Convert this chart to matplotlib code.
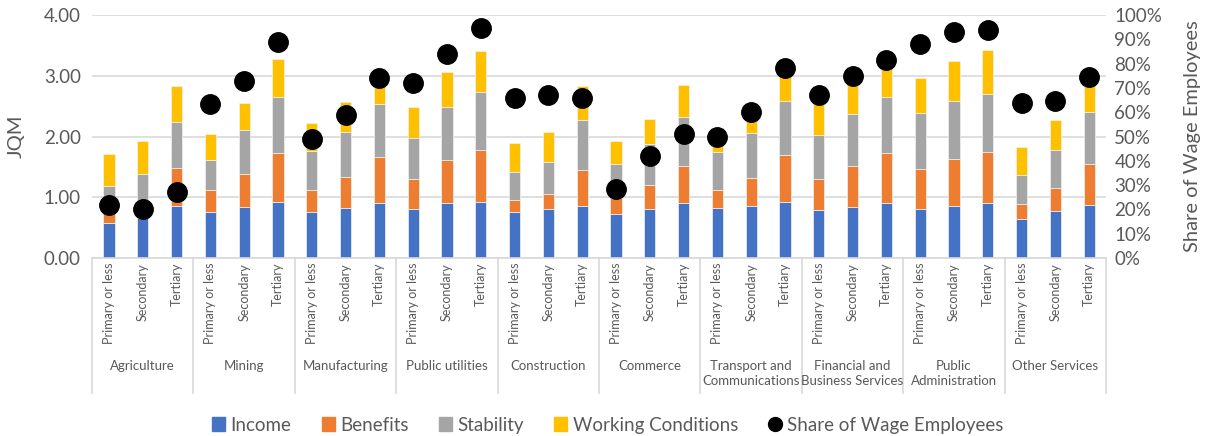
import numpy as np
from matplotlib import pyplot as plt
from matplotlib.lines import Line2D
from matplotlib.patches import Patch
from matplotlib.ticker import FuncFormatter, MultipleLocator

plt.rcParams['font.family'] = ['Lato', 'DejaVu Sans']

# sectors and education levels
sectors = ['Agriculture', 'Mining', 'Manufacturing', 'Public utilities',
           'Construction', 'Commerce', 'Transport and\nCommunications',
           'Financial and\nBusiness Services', 'Public\nAdministration',
           'Other Services']
levels = ['Primary or less', 'Secondary', 'Tertiary']

# JQM components (per sector: primary, secondary, tertiary)
income = [0.58, 0.66, 0.86,  0.76, 0.84, 0.92,  0.76, 0.82, 0.90,
          0.80, 0.90, 0.92,  0.76, 0.81, 0.86,  0.73, 0.81, 0.90,
          0.82, 0.86, 0.93,  0.79, 0.84, 0.91,  0.80, 0.86, 0.90,
          0.64, 0.77, 0.87]
benefits = [0.16, 0.06, 0.63,  0.36, 0.55, 0.81,  0.36, 0.51, 0.77,
            0.50, 0.72, 0.86,  0.19, 0.25, 0.59,  0.26, 0.40, 0.62,
            0.30, 0.46, 0.76,  0.51, 0.68, 0.82,  0.66, 0.77, 0.85,
            0.25, 0.39, 0.68]
stability = [0.45, 0.67, 0.75,  0.49, 0.72, 0.92,  0.65, 0.74, 0.87,
             0.68, 0.87, 0.95,  0.47, 0.52, 0.82,  0.56, 0.67, 0.80,
             0.63, 0.74, 0.90,  0.73, 0.85, 0.92,  0.92, 0.95, 0.95,
             0.47, 0.62, 0.85]
working = [0.52, 0.54, 0.60,  0.43, 0.44, 0.62,  0.46, 0.50, 0.58,
           0.51, 0.57, 0.67,  0.48, 0.49, 0.56,  0.38, 0.41, 0.53,
           0.39, 0.43, 0.45,  0.51, 0.57, 0.55,  0.58, 0.66, 0.72,
           0.47, 0.49, 0.53]
# share of wage employees (right axis)
share = [0.22, 0.20, 0.27,  0.635, 0.73, 0.89,  0.49, 0.59, 0.74,
         0.72, 0.84, 0.945,  0.66, 0.67, 0.66,  0.285, 0.42, 0.51,
         0.50, 0.60, 0.78,  0.67, 0.75, 0.815,  0.88, 0.93, 0.94,
         0.64, 0.645, 0.745]

C_INC = '#4472C4'
C_BEN = '#ED7D31'
C_STA = '#A5A5A5'
C_WC = '#FFC000'
TXT = '#595959'
GRID = '#D9D9D9'

fig = plt.figure(figsize=(12.08, 4.36), dpi=100)
ax1 = fig.add_axes([0.0762, 0.408, 0.8394, 0.5576])

x = np.arange(len(income))
w = 0.33
bottom = np.zeros(len(x))
for vals, col in [(income, C_INC), (benefits, C_BEN), (stability, C_STA), (working, C_WC)]:
    ax1.bar(x, vals, w, bottom=bottom, color=col, edgecolor='#F2F2F2', linewidth=0.5, zorder=2)
    bottom = bottom + np.array(vals)

ax1.set_xlim(-0.5, len(x) - 0.5)
ax1.set_ylim(0, 4)
ax1.yaxis.set_major_locator(MultipleLocator(1))
ax1.yaxis.set_major_formatter(FuncFormatter(lambda v, p: '%.2f' % v))
ax1.grid(axis='y', color=GRID, linewidth=1.2, zorder=0)
ax1.set_axisbelow(True)
ax1.set_ylabel('JQM', color=TXT, fontsize=14.5, labelpad=14)
ax1.tick_params(axis='y', length=0, labelsize=13.5, labelcolor=TXT, pad=8)
ax1.set_xticks([])
for s in ax1.spines.values():
    s.set_visible(False)

# right axis: share of wage employees
ax2 = ax1.twinx()
ax2.plot(x, share, 'o', color='black', markersize=14, zorder=5)
ax2.set_ylim(0, 1)
ax2.yaxis.set_major_locator(MultipleLocator(0.1))
ax2.yaxis.set_major_formatter(FuncFormatter(lambda v, p: '%d%%' % round(v * 100)))
ax2.set_ylabel('Share of Wage Employees', color=TXT, fontsize=14.5, labelpad=16)
ax2.tick_params(axis='y', length=0, labelsize=13.5, labelcolor=TXT, pad=6)
for s in ax2.spines.values():
    s.set_visible(False)

# multi level category axis
trans = ax1.get_xaxis_transform()
ax1.plot([-0.5, len(x) - 0.5], [0, 0], color=GRID, linewidth=1.2, transform=trans, clip_on=False)
for g in range(len(sectors) + 1):
    ax1.plot([g * 3 - 0.5, g * 3 - 0.5], [0, -0.555], color=GRID, linewidth=1.2,
             transform=trans, clip_on=False)
for i in x:
    ax1.text(i, -0.02, levels[i % 3], rotation=90, ha='center', va='top',
             fontsize=9, color=TXT, transform=trans)
for g, name in enumerate(sectors):
    ax1.text(g * 3 + 1, -0.42, name, ha='center', va='top', fontsize=9.5,
             color=TXT, transform=trans, linespacing=1.25)

handles = [Patch(color=C_INC), Patch(color=C_BEN), Patch(color=C_STA), Patch(color=C_WC),
           Line2D([], [], marker='o', color='black', linestyle='none', markersize=10)]
labels = ['Income', 'Benefits', 'Stability', 'Working Conditions', 'Share of Wage Employees']
fig.legend(handles, labels, loc='center', bbox_to_anchor=(0.503, 0.025), ncol=5,
           frameon=False, fontsize=13.5, handlelength=0.7, handleheight=0.7,
           handletextpad=0.3, columnspacing=1.6, labelcolor=TXT)

fig.savefig('out.png', dpi=100)
